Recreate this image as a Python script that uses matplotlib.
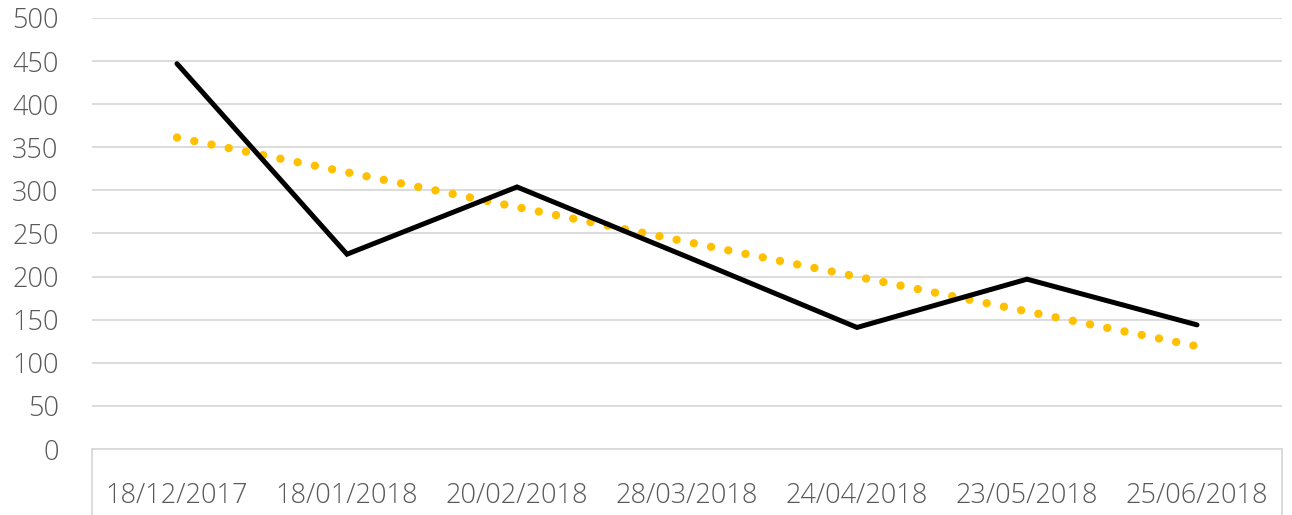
import numpy as np
import matplotlib
matplotlib.use("Agg")
import matplotlib.pyplot as plt
import matplotlib.transforms as mtransforms

dates = ["18/12/2017", "18/01/2018", "20/02/2018", "28/03/2018",
         "24/04/2018", "23/05/2018", "25/06/2018"]
values = [447, 226, 304, 223, 141, 197, 144]
yticks = [0, 50, 100, 150, 200, 250, 300, 350, 400, 450, 500]

plt.rcParams['font.family'] = ['Open Sans', 'DejaVu Sans']

x = np.arange(len(dates))
# linear trendline (least squares), as the spreadsheet draws it
slope, intercept = np.polyfit(x, values, 1)
trend = slope * x + intercept

fig = plt.figure(figsize=(12.92, 5.15), dpi=100)
ax = fig.add_axes([92/1292, 1 - 449/515, 1190/1292, 431/515])

ax.plot(x, trend, color="#FFC000", lw=6, linestyle=(0, (0.01, 2.1)),
        dash_capstyle="round", zorder=3)
ax.plot(x, values, color="black", lw=3.6, solid_capstyle="round",
        solid_joinstyle="miter", zorder=4)

ax.set_xlim(-0.5, len(dates) - 0.5)
ax.set_ylim(0, 500)
ax.set_yticks(yticks)
ax.set_xticks(x)
ax.set_xticklabels(dates)
ax.tick_params(axis="both", length=0, labelsize=19.5, colors="#595959")
ax.tick_params(axis="y", pad=24)
ax.tick_params(axis="x", pad=24)
for lab in ax.get_xticklabels() + ax.get_yticklabels():
    lab.set_fontweight("light")

ax.grid(axis="y", color="#D9D9D9", lw=1.3)
ax.set_axisbelow(True)
for s in ["top", "left", "right"]:
    ax.spines[s].set_visible(False)
ax.spines["bottom"].set_color("#D9D9D9")
ax.spines["bottom"].set_linewidth(1.3)

# category axis box edges below the plot
trans = mtransforms.blended_transform_factory(ax.transAxes, ax.transAxes)
for xe in [0, 1]:
    ax.plot([xe, xe], [0, -0.2], color="#D9D9D9", lw=1.3, transform=trans,
            clip_on=False)

fig.savefig("out.png", dpi=100)
